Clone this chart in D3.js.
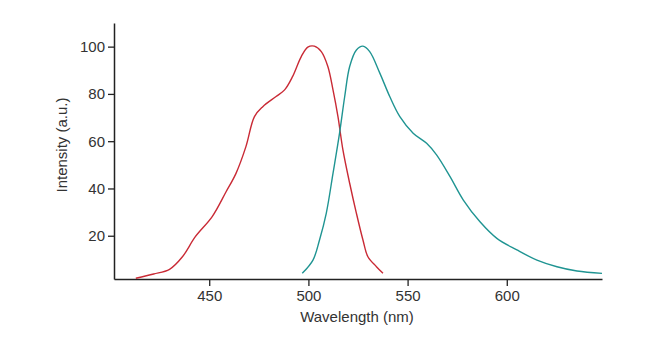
<!DOCTYPE html>
<html>
<head>
<meta charset="utf-8">
<script src="https://cdn.jsdelivr.net/npm/d3@7"></script>
<style>
  body { margin: 0; background: #fff; }
  svg text { font-family: "Liberation Sans", Arial, sans-serif; }
</style>
</head>
<body>
<div id="chart"></div>
<script>
// excitation spectrum (red)
const excWl  = [413, 422, 430, 436.5, 443, 451.5, 458.5, 463.5, 468.5, 472.8, 477, 483.7, 488, 492, 496.4, 499.7, 503, 506.5, 509.8, 512.4, 514.9, 517.4, 520.8, 524.2, 527.5, 530, 534.3, 537.6];
const excInt = [2.0, 3.8, 5.8, 11.1, 19.6, 28.1, 38.6, 46.4, 57.7, 70.4, 74.6, 78.9, 81.7, 87.3, 95.8, 99.8, 100.2, 97.9, 91.6, 81.7, 70.4, 56.3, 42.2, 29.5, 18.2, 11.1, 6.9, 4.1];

// emission spectrum (teal)
const emWl  = [496.9, 502.3, 505.6, 509, 512.4, 515.7, 518.3, 520.8, 524.2, 527.5, 530.9, 536, 541, 546.1, 552.8, 559.6, 564.6, 571.4, 578.1, 586.5, 595, 605.1, 615.2, 625.3, 635.4, 648];
const emInt = [4.1, 9.7, 18.2, 29.5, 46.4, 63.4, 78.9, 91.6, 98.6, 100.2, 97.9, 88.8, 78.9, 70.4, 63.4, 59.1, 54.2, 45.0, 35.1, 25.9, 18.9, 14.0, 9.7, 6.9, 5.1, 4.1];

const xTicks = [450, 500, 550, 600];
const yTicks = [20, 40, 60, 80, 100];

const width = 650, height = 344;
const svg = d3.select("#chart").append("svg")
    .attr("width", width)
    .attr("height", height);

const x = d3.scaleLinear().domain([402, 648]).range([114, 602]);
const y = d3.scaleLinear().domain([1.7, 110]).range([279, 23]);

const xAxis = svg.append("g")
    .attr("transform", `translate(0,${y(1.7)})`)
    .call(d3.axisBottom(x).tickValues(xTicks).tickSize(7).tickSizeOuter(0).tickPadding(4));

const yAxis = svg.append("g")
    .attr("transform", `translate(${x(402)},0)`)
    .call(d3.axisLeft(y).tickValues(yTicks).tickSize(6).tickSizeOuter(0).tickPadding(3));

[xAxis, yAxis].forEach(g => {
  g.select(".domain").attr("stroke", "#222").attr("stroke-width", 1.5);
  g.selectAll(".tick line").attr("stroke", "#222").attr("stroke-width", 1.3);
  g.selectAll(".tick text")
    .attr("fill", "#333")
    .style("font-size", "15px")
    .style("font-family", "'Liberation Sans', Arial, sans-serif");
});

svg.append("text")
    .attr("x", 357)
    .attr("y", 322)
    .attr("text-anchor", "middle")
    .attr("fill", "#333")
    .style("font-size", "15px")
    .text("Wavelength (nm)");

svg.append("text")
    .attr("transform", "translate(67,145) rotate(-90)")
    .attr("text-anchor", "middle")
    .attr("fill", "#333")
    .style("font-size", "15px")
    .text("Intensity (a.u.)");

const line = d3.line()
    .x(d => x(d[0]))
    .y(d => y(d[1]))
    .curve(d3.curveCatmullRom);

svg.append("path")
    .datum(d3.zip(excWl, excInt))
    .attr("fill", "none")
    .attr("stroke", "#c92a35")
    .attr("stroke-width", 1.4)
    .attr("d", line);

svg.append("path")
    .datum(d3.zip(emWl, emInt))
    .attr("fill", "none")
    .attr("stroke", "#1f9492")
    .attr("stroke-width", 1.4)
    .attr("d", line);
</script>
</body>
</html>
